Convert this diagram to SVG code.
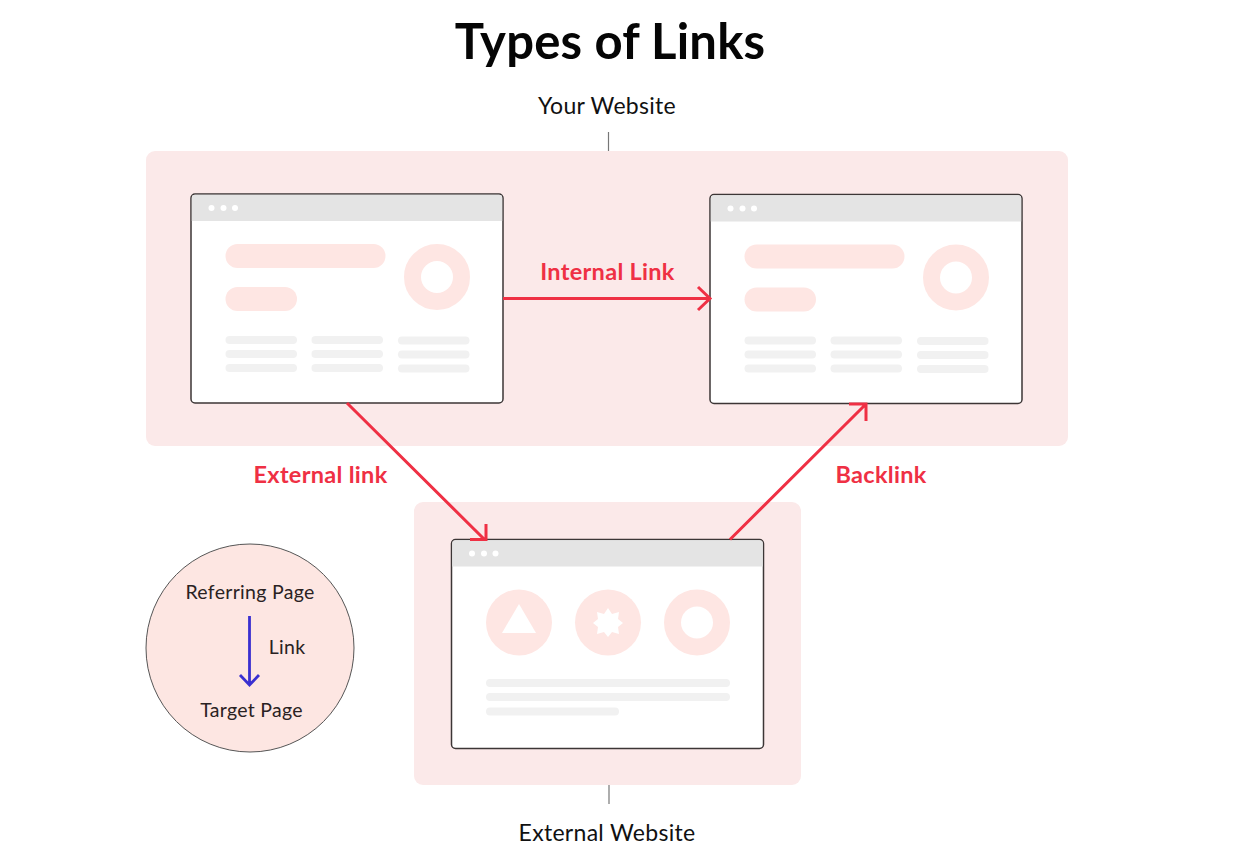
<svg xmlns="http://www.w3.org/2000/svg" width="1238" height="858" viewBox="0 0 1238 858">
<style>
text{font-family:"Lato","Liberation Sans",sans-serif;}
.zone{fill:#fbe9e9;}
.win{fill:#fff;stroke:#3c3636;stroke-width:1.5;}
.bar{fill:#e4e4e4;}
.dot{fill:#fff;}
.pink{fill:#fee6e3;}
.grey{fill:#f1f1f1;}
.lbl{font-size:23px;fill:#111;text-anchor:middle;letter-spacing:0.3px;}
.red{font-size:23.5px;font-weight:700;fill:#ef3044;text-anchor:middle;letter-spacing:0.3px;}
.sm{font-size:19.5px;fill:#2a2222;text-anchor:middle;letter-spacing:0.3px;}
.conn{fill:none;stroke:#ef3044;stroke-width:3;}
.tick{stroke:#777;stroke-width:1.2;}
</style>
<defs>
<g id="chrome">
<rect class="win" x="0" y="0" width="312" height="209" rx="4"/>
<path class="bar" d="M0.8 27V4Q0.8 0.800 4 0.800H308Q311.200 0.800 311.200 4V27Z"/>
<circle class="dot" cx="20.500" cy="14" r="3"/><circle class="dot" cx="32.500" cy="14" r="3"/><circle class="dot" cx="44" cy="14" r="3"/>
</g>
<g id="page">
<use href="#chrome"/>
<rect class="pink" x="34.500" y="50" width="160" height="24" rx="12"/>
<rect class="pink" x="34.500" y="93" width="71.500" height="24" rx="12"/>
<circle cx="246" cy="83" r="24.500" fill="none" stroke="#fee6e3" stroke-width="17"/>
<rect class="grey" x="34.500" y="142" width="71.500" height="8" rx="4"/><rect class="grey" x="120.500" y="142" width="71.500" height="8" rx="4"/><rect class="grey" x="207" y="142.500" width="71.500" height="8" rx="4"/>
<rect class="grey" x="34.500" y="156" width="71.500" height="8" rx="4"/><rect class="grey" x="120.500" y="156" width="71.500" height="8" rx="4"/><rect class="grey" x="207" y="156.500" width="71.500" height="8" rx="4"/>
<rect class="grey" x="34.500" y="170" width="71.500" height="8" rx="4"/><rect class="grey" x="120.500" y="170" width="71.500" height="8" rx="4"/><rect class="grey" x="207" y="170.500" width="71.500" height="8" rx="4"/>
</g>
</defs>
<rect width="1238" height="858" fill="#fff"/>
<text id="title" x="610" y="59" font-size="49" font-weight="700" fill="#050505" text-anchor="middle" letter-spacing="0.2">Types of Links</text>
<g id="your-website">
<text class="lbl" x="607" y="114">Your Website</text>
<line class="tick" x1="608.500" y1="132" x2="608.500" y2="151"/>
<rect class="zone" x="146" y="151" width="922" height="295" rx="9"/>
</g>
<g id="external-website">
<rect class="zone" x="414" y="502" width="387" height="283" rx="9"/>
<line class="tick" x1="609" y1="785" x2="609" y2="804"/>
<text class="lbl" x="607" y="841">External Website</text>
</g>
<g id="page-a"><use href="#page" x="191" y="194"/></g>
<g id="page-b"><use href="#page" x="710" y="194.500"/></g>
<g id="page-c">
<use href="#chrome" x="451.500" y="539.500"/>
<circle class="pink" cx="519" cy="622.500" r="33"/>
<path fill="#fff" d="M519 604L536 633H502Z"/>
<circle class="pink" cx="608" cy="622.500" r="33"/>
<path fill="#fff" d="M608 608L612 614L619 612L618 619L623 623L618 627L619 634L612 632L608 637L604 632L597 634L598 627L593 623L598 619L597 612L604 614Z"/>
<circle cx="697" cy="622.500" r="24.500" fill="none" stroke="#fee6e3" stroke-width="17"/>
<rect class="grey" x="486" y="679" width="244" height="8" rx="4"/>
<rect class="grey" x="486" y="693" width="244" height="8" rx="4"/>
<rect class="grey" x="486" y="707.500" width="133" height="8" rx="4"/>
</g>
<g id="legend">
<circle cx="250" cy="648" r="104" fill="#fde6e2" stroke="#555" stroke-width="1"/>
<text class="sm" x="250" y="598.500">Referring Page</text>
<text class="sm" x="287" y="654">Link</text>
<text class="sm" x="251.500" y="717">Target Page</text>
</g>
<g id="connectors">
<path class="conn" d="M503 298.500H710M698 287L710 298.500L698 310"/>
<path class="conn" d="M347 403L485 540M470 539.500H486V524"/>
<path class="conn" d="M730 539.500L866 404M849 404H866V421"/>
<path d="M249.500 616V685M240 675L249.500 685L259 675" fill="none" stroke="#3a2fd0" stroke-width="2.800"/>
</g>
<text class="red" x="607.500" y="280">Internal Link</text>
<text class="red" x="320.500" y="483">External link</text>
<text class="red" x="881" y="483">Backlink</text>
</svg>
